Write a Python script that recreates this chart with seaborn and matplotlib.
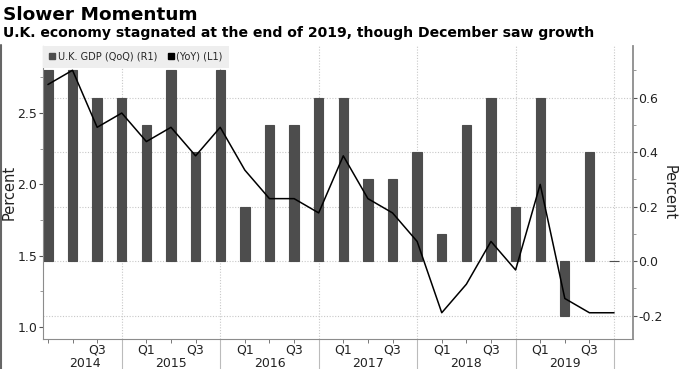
import pandas as pd
import seaborn as sns
import matplotlib.pyplot as plt
from matplotlib.lines import Line2D
from matplotlib.ticker import FormatStrFormatter

# quarterly data, 2014 Q1 .. 2019 Q4
quarters = ["2014Q1", "2014Q2", "2014Q3", "2014Q4",
            "2015Q1", "2015Q2", "2015Q3", "2015Q4",
            "2016Q1", "2016Q2", "2016Q3", "2016Q4",
            "2017Q1", "2017Q2", "2017Q3", "2017Q4",
            "2018Q1", "2018Q2", "2018Q3", "2018Q4",
            "2019Q1", "2019Q2", "2019Q3", "2019Q4"]
gdp_qoq = [0.7, 0.7, 0.6, 0.6, 0.5, 0.7, 0.4, 0.7,
           0.2, 0.5, 0.5, 0.6, 0.6, 0.3, 0.3, 0.4,
           0.1, 0.5, 0.6, 0.2, 0.6, -0.2, 0.4, 0.0]
gdp_yoy = [2.7, 2.8, 2.4, 2.5, 2.3, 2.4, 2.2, 2.4,
           2.1, 1.9, 1.9, 1.8, 2.2, 1.9, 1.8, 1.6,
           1.1, 1.3, 1.6, 1.4, 2.0, 1.2, 1.1, 1.1]
left_ticks = [1.0, 1.5, 2.0, 2.5]
right_ticks = [-0.2, 0.0, 0.2, 0.4, 0.6]
legend_labels = ["U.K. GDP (QoQ) (R1)", "(YoY) (L1)"]

bar_color = "#4d4d4d"
grid_color = "#c8c8c8"
spine_color = "#8c8c8c"
text_color = "#222222"

df = pd.DataFrame({"quarter": quarters, "qoq": gdp_qoq, "yoy": gdp_yoy})
df["pos"] = range(len(df))
df["year"] = df.quarter.str[:4]
df["q"] = df.quarter.str[4:]

sns.set_theme(style="white")
plt.rcParams["font.family"] = ["DejaVu Sans"]

fig = plt.figure(figsize=(6.8, 3.69), dpi=100)
fig.patch.set_facecolor("white")
ax = fig.add_axes([43 / 680, 30 / 369, 590 / 680, 293 / 369])
ax2 = ax.twinx()

# bars on the right axis
sns.barplot(data=df, x="pos", y="qoq", ax=ax2, color=bar_color, saturation=1,
            width=0.38, edgecolor=bar_color, linewidth=0.8)
# line on the left axis, drawn above the bars
sns.lineplot(data=df, x="pos", y="yoy", ax=ax, color="black", linewidth=1.1)
ax.set_zorder(ax2.get_zorder() + 1)
ax.patch.set_visible(False)

ax.set_xlim(-0.2, 23.77)
ax.set_ylim(0.916, 2.97)
ax2.set_ylim(-0.286, 0.789)

# year boundaries (Q4 positions)
seps = df.loc[df.q == "Q4", "pos"].tolist()

# grid behind bars
ax2.set_axisbelow(True)
ax2.yaxis.grid(True, linestyle=(0, (1, 1.5)), color=grid_color, linewidth=0.8)
ax2.vlines(seps, 0, 1, transform=ax2.get_xaxis_transform(),
           colors=grid_color, linestyles=(0, (1, 1.5)), linewidth=0.8, zorder=0)

# y axes
ax.set_yticks(left_ticks)
ax.set_yticks([t + 0.25 for t in left_ticks], minor=True)
ax.yaxis.set_major_formatter(FormatStrFormatter("%.1f"))
ax2.set_yticks(right_ticks)
ax2.set_yticks([t + 0.1 for t in right_ticks], minor=True)
ax2.yaxis.set_major_formatter(FormatStrFormatter("%.1f"))
ax.tick_params(axis="y", which="major", left=True, length=3, width=0.8,
               color="#555555", labelsize=9, pad=1, labelcolor=text_color)
ax.tick_params(axis="y", which="minor", left=True, length=2, width=0.6, color="#888888")
ax2.tick_params(axis="y", which="major", right=True, length=3, width=0.8,
                color="#555555", labelsize=9, pad=1, labelcolor=text_color)
ax2.tick_params(axis="y", which="minor", right=True, length=2, width=0.6, color="#888888")

# x axis: quarter ticks, Q1/Q3 labels, year separators
ax.xaxis.remove_overlapping_locs = False
ax.set_xticks(df.pos)
xlabels = [q if (q in ("Q1", "Q3") and p > 0) else "" for p, q in zip(df.pos, df.q)]
ax.set_xticklabels(xlabels)
ax.set_xticks(seps, minor=True)
ax.tick_params(axis="x", which="major", bottom=True, length=3, width=0.7,
               color="#777777", labelsize=9, pad=0.3, labelcolor=text_color)
ax.tick_params(axis="x", which="minor", bottom=True, length=22, width=0.8,
               color="#bbbbbb")
ax.set_xlabel("")

prev = 0
for yr, sep in zip(df.year.unique(), seps):
    ax.text((prev + sep) / 2, -0.083, yr, transform=ax.get_xaxis_transform(),
            ha="center", va="center", fontsize=9, color=text_color)
    prev = sep

# spines
for side in ["top", "right"]:
    ax.spines[side].set_visible(False)
for side in ["left", "bottom"]:
    ax.spines[side].set_color(spine_color)
    ax.spines[side].set_linewidth(0.8)
for side in ["top", "left", "bottom"]:
    ax2.spines[side].set_visible(False)
ax2.spines["right"].set_color(spine_color)
ax2.spines["right"].set_linewidth(1.3)

ax.set_ylabel("Percent", fontsize=10.5, color=text_color)
ax.yaxis.label.set_va("center")
ax.yaxis.set_label_coords(-0.058, 0.5)
ax2.set_ylabel("Percent", fontsize=10.5, color=text_color, rotation=270)
ax2.yaxis.label.set_va("center")
ax2.yaxis.set_label_coords(1.061, 0.5)

# legend
handles = [Line2D([], [], marker="s", ls="none", color=bar_color, markersize=5),
           Line2D([], [], marker="s", ls="none", color="black", markersize=5)]
leg = ax.legend(handles, legend_labels, loc="upper left", bbox_to_anchor=(0, 1),
                ncol=2, frameon=True, fancybox=False, facecolor="#eeeeee",
                edgecolor="none", framealpha=1, borderaxespad=0, fontsize=7,
                handlelength=0.7, handletextpad=0.2, columnspacing=1.1,
                borderpad=0.6)

fig.text(0.004, 1 - 15 / 369, "Slower Momentum", fontsize=13.3,
         fontweight="bold", va="center", color="black")
fig.text(0.004, 1 - 33 / 369,
         "U.K. economy stagnated at the end of 2019, though December saw growth",
         fontsize=10.1, fontweight="bold", va="center", color="black")

# left border line seen in the reference
fig.add_artist(Line2D([0.002, 0.002], [0, 1 - 45 / 369], transform=fig.transFigure,
                      color="#666666", linewidth=1.5))

fig.savefig("out.png", dpi=100)
